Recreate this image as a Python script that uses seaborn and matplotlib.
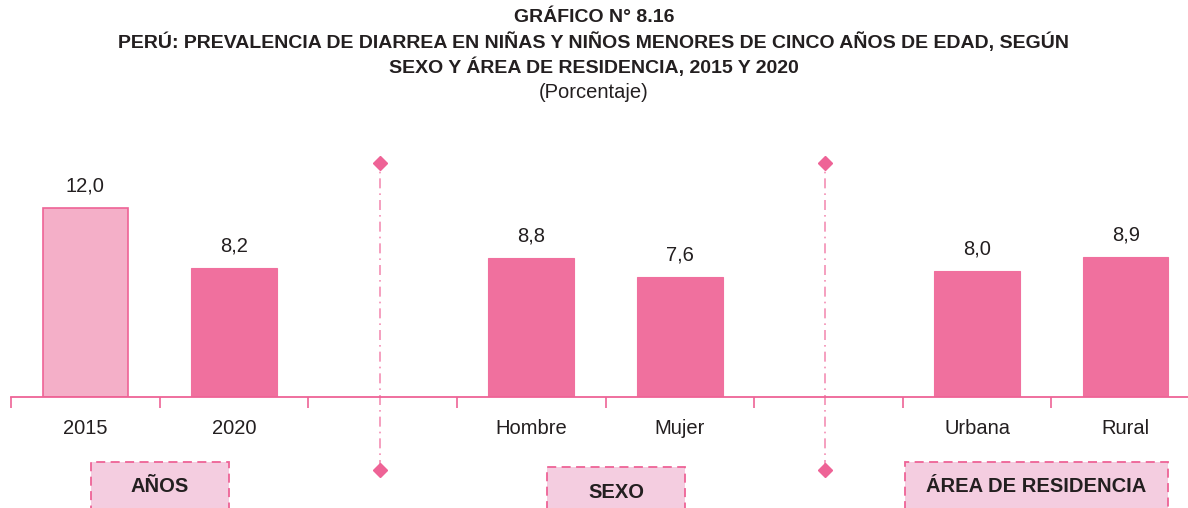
import matplotlib
matplotlib.use("Agg")
import matplotlib.pyplot as plt
from matplotlib.patches import Rectangle
import pandas as pd
import seaborn as sns

# data
categories = ["2015", "2020", "Hombre", "Mujer", "Urbana", "Rural"]
values = [12.0, 8.2, 8.8, 7.6, 8.0, 8.9]
slot_order = ["2015", "2020", " ", "Hombre", "Mujer", "  ", "Urbana", "Rural"]
group_labels = ["AÑOS", "SEXO", "ÁREA DE RESIDENCIA"]

PINK = "#F0709E"
LIGHT = "#F4AFC8"
EDGE = "#EE6396"
BOX = "#F4CDE0"
TXT = "#231F20"

sns.set_theme(style="white")
plt.rcParams["font.family"] = ["Liberation Sans Narrow", "Liberation Sans", "DejaVu Sans"]

W, H = 1188, 508
fig = plt.figure(figsize=(W / 100, H / 100), dpi=100)

def fx(px):
    return px / W

def fy(py):
    return 1 - py / H

base_y = 397
unit = 15.75
ymax = 14
ax = fig.add_axes([fx(11), fy(base_y), (1200 - 11) / W, ymax * unit / H])

df = pd.DataFrame({"cat": categories, "val": values})
pal = {c: PINK for c in categories}
pal["2015"] = LIGHT
sns.barplot(data=df, x="cat", y="val", hue="cat", order=slot_order, palette=pal,
            width=0.575, saturation=1, legend=False, ax=ax)
for p in ax.patches:
    if abs(p.get_height() - values[0]) < 1e-9:
        p.set_edgecolor(EDGE)
        p.set_linewidth(1.2)
    else:
        p.set_edgecolor(PINK)
        p.set_linewidth(0.8)

ax.set_xlim(-0.5, 7.5)
ax.set_ylim(0, ymax)
ax.set_xlabel("")
ax.set_ylabel("")
ax.set_yticks([])
for s in ["top", "right", "left"]:
    ax.spines[s].set_visible(False)
ax.spines["bottom"].set_color(EDGE)
ax.spines["bottom"].set_linewidth(1.3)

ax.set_xticks(range(len(slot_order)))
ax.set_xticklabels(slot_order, fontsize=14.5, color=TXT)
ax.tick_params(axis="x", which="major", bottom=True, length=0, pad=16)
ax.set_xticks([i - 0.5 for i in range(len(slot_order) + 1)], minor=True)
ax.tick_params(axis="x", which="minor", bottom=True, length=8, width=1.2,
               color=EDGE, direction="out")

for c, v in zip(categories, values):
    ax.annotate(f"{v:.1f}".replace(".", ","), (slot_order.index(c), v),
                xytext=(0, 9), textcoords="offset points",
                ha="center", va="bottom", fontsize=14.5, color=TXT)

# dividers between groups
for xc in [1.98, 4.98]:
    y_top = (base_y - 163) / unit
    y_bot = (base_y - 470) / unit
    ax.plot([xc, xc], [y_bot, y_top], color="#F38FB4", lw=1.2, ls=(0, (6, 3, 1, 3)),
            clip_on=False)
    ax.plot([xc, xc], [y_bot, y_top], ls="none", marker="D", ms=7, color="#EE6396",
            clip_on=False)

# group boxes
boxes = [(91, 462, 229, 160, 487), (547, 467, 685, 616, 492), (905, 462, 1168, 1036, 487)]
for lab, (x0, y0, x1, tx, ty) in zip(group_labels, boxes):
    fig.patches.append(Rectangle((fx(x0), fy(H + 10)), fx(x1 - x0), (H + 10 - y0) / H,
                                 transform=fig.transFigure, facecolor=BOX, edgecolor=EDGE,
                                 lw=1.3, ls=(0, (5, 3))))
    fig.text(fx(tx), fy(ty), lab, ha="center", va="center", fontsize=14.5,
             fontweight="bold", color=TXT)

# titles
fig.text(0.5, fy(17), "GRÁFICO N° 8.16", ha="center", va="center", fontsize=14,
         fontweight="bold", color=TXT)
fig.text(0.5, fy(42), "PERÚ: PREVALENCIA DE DIARREA EN NIÑAS Y NIÑOS MENORES DE CINCO AÑOS DE EDAD, SEGÚN",
         ha="center", va="center", fontsize=14, fontweight="bold", color=TXT)
fig.text(0.5, fy(67), "SEXO Y ÁREA DE RESIDENCIA, 2015 Y 2020", ha="center", va="center",
         fontsize=14, fontweight="bold", color=TXT)
fig.text(0.5, fy(93), "(Porcentaje)", ha="center", va="center", fontsize=14.5, color=TXT)

fig.savefig("out.png", dpi=100)
